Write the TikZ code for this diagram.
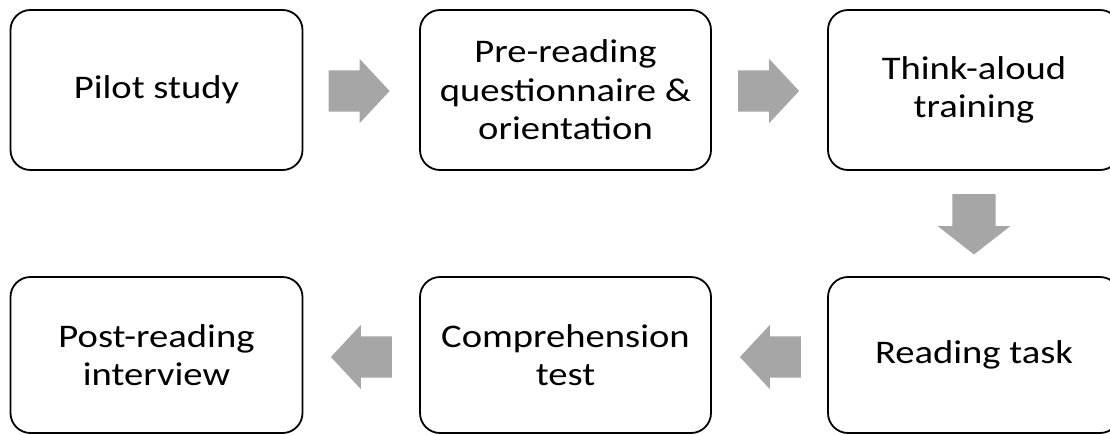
\documentclass[tikz,border=0pt]{standalone}
\usepackage{fontspec}
\setmainfont{Carlito}[FakeStretch=1.17]
\usetikzlibrary{shapes.arrows,calc}
\definecolor{arrowgray}{HTML}{A6A6A6}
\tikzset{
  stage/.style={draw=black, line width=1.8pt, rounded corners=20pt, minimum width=292pt,
    minimum height=160pt, inner sep=0pt, align=center, font=\fontsize{33}{38.5}\selectfont},
  flowarrow/.style={single arrow, fill=arrowgray, draw=none, inner sep=20.5pt, anchor=tail,
    minimum height=61pt, minimum width=64pt, single arrow head extend=11.5pt,
    single arrow tip angle=94},
  downarrow/.style={flowarrow, inner sep=21.5pt, minimum height=53pt, minimum width=72pt,
    single arrow head extend=14.5pt, single arrow tip angle=104, shape border rotate=270}
}
\begin{document}
\begin{tikzpicture}[x=1pt,y=-1pt]
    \useasboundingbox (0,0) rectangle (1110,434);
    % top row
    \node[stage] (pilot) at (156.5,90) {Pilot study};
    \node[stage, minimum width=291pt] (prereading) at (565.5,90) {Pre-reading\\questionnaire \&\\orientation};
    \node[stage] (training) at (974,90) {Think-aloud\\training};
    % bottom row
    \node[stage, minimum height=156pt] (reading) at (974,355) {Reading task};
    \node[stage, minimum height=156pt, minimum width=291pt] (comprehension) at (565.5,355) {Comprehension\\test};
    \node[stage, minimum height=156pt] (postreading) at (156.5,355) {Post-reading\\interview};
    % block arrows
    \node[flowarrow] (a1) at ($(pilot.east)+(25,1)$) {};
    \node[flowarrow] (a2) at ($(prereading.east)+(26,1)$) {};
    \node[downarrow] (a3) at ($(training.south)+(0,23)$) {};
    \node[flowarrow, shape border rotate=180] (a4) at ($(reading.west)+(-26,2)$) {};
    \node[flowarrow, shape border rotate=180] (a5) at ($(comprehension.west)+(-27,2)$) {};
\end{tikzpicture}
\end{document}
